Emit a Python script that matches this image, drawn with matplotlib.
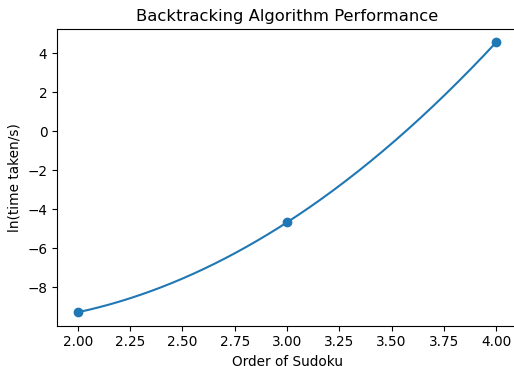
import numpy as np
import matplotlib
matplotlib.use("Agg")
import matplotlib.pyplot as plt

plt.rcParams["font.size"] = 9.8

# 数据
order = [2, 3, 4]
log_time = [-9.28, -4.67, 4.56]

fig = plt.figure(figsize=(5.14, 3.66), dpi=100)
# 坐标轴位置(右侧略超出画布)
ax = fig.add_axes([57 / 514, 0.110, 460 / 514, 0.811])

# 二次拟合曲线
coef = np.polyfit(order, log_time, 2)
xs = np.linspace(min(order), max(order), 200)
ax.plot(xs, np.polyval(coef, xs), color="#1f77b4")
ax.scatter(order, log_time, color="#1f77b4", zorder=3)

ax.set_title("Backtracking Algorithm Performance")
ax.set_xlabel("Order of Sudoku")
ax.set_ylabel("ln(time taken/s)")

fig.savefig("out.png")
